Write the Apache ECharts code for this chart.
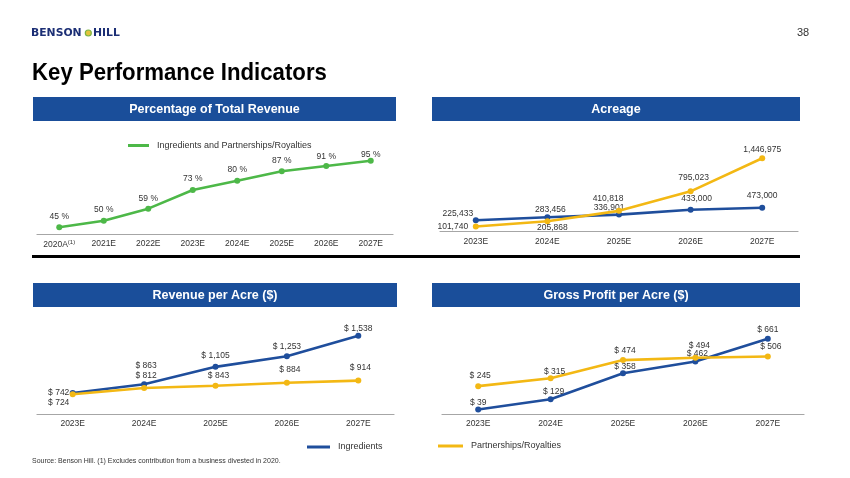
<!DOCTYPE html>
<html><head><meta charset="utf-8">
<script src="https://cdn.jsdelivr.net/npm/echarts@6/dist/echarts.min.js"></script>
<style>html,body{margin:0;padding:0;background:#fff}#c{width:850px;height:478px}</style>
</head><body><div id="c"></div>
<script>
// ---- data ----
const pctCategories = ['2020A(1)', '2021E', '2022E', '2023E', '2024E', '2025E', '2026E', '2027E'];
const pctValues = [45, 50, 59, 73, 80, 87, 91, 95];
const years = ['2023E', '2024E', '2025E', '2026E', '2027E'];
const acreageIngredients = [225433, 283456, 336901, 433000, 473000];
const acreagePartnerships = [101740, 205868, 410818, 795023, 1446975];
const revenueIngredients = [742, 863, 1105, 1253, 1538];
const revenuePartnerships = [724, 812, 843, 884, 914];
const gpIngredients = [39, 129, 358, 462, 661];
const gpPartnerships = [245, 315, 474, 494, 506];
const seriesNames = ['Ingredients', 'Partnerships/Royalties'];
const pctSeriesName = 'Ingredients and Partnerships/Royalties';

// ---- layout / styling ----
const BLUE = '#1F4E9C', YELLOW = '#F3B814', GREEN = '#4DB848', HEAD = '#1A4E9A';
const FONT = '"Liberation Sans", Arial, sans-serif';
const off = {
  pct: [[0,-11],[0,-11],[0,-10],[0,-11],[0,-11],[0,-11],[0,-9],[0,-6]],
  acI: [[-18,-7],[3,-8],[-10,-7],[6,-11],[0,-12]],
  acP: [[-23,0],[5,6],[-11,-12],[3,-14],[0,-9]],
  rvI: [[-14,0],[2,-19],[0,-11],[0,-10],[0,-7]],
  rvP: [[-14,8],[2,-12],[3,-10],[3,-13],[2,-13]],
  gpI: [[0,-7],[3,-8],[2,-7],[2,-8],[0,-9]],
  gpP: [[2,-10],[4,-7],[2,-9],[4,-12],[3,-10]]
};

const fmtPct = v => v + ' %';
const fmtNum = v => v.toLocaleString('en-US');
const fmtUsd = v => '$ ' + v.toLocaleString('en-US');

function mk(name, gi, values, color, fmt, offsets, z) {
  return {
    type: 'line', name: name, xAxisIndex: gi, yAxisIndex: gi, z: z,
    data: values.map((v, i) => ({ value: v, label: { offset: offsets[i] } })),
    symbol: 'circle', symbolSize: 6, showSymbol: true,
    lineStyle: { color: color, width: 2.6 },
    itemStyle: { color: color },
    emphasis: { disabled: true },
    label: { show: true, position: 'inside', formatter: p => fmt(p.value),
      fontSize: 8.5, color: '#333', fontFamily: FONT }
  };
}

const grids = [
  { left: 37, width: 356, top: 154, height: 80 },
  { left: 440, width: 358, top: 150.5, height: 81.2 },
  { left: 37, width: 357, top: 324, height: 90 },
  { left: 442, width: 362, top: 323, height: 91 }
].map(g => Object.assign({ outerBoundsMode: 'none', containLabel: false }, g));

const cats = [pctCategories, years, years, years];
const xAxis = cats.map((c, i) => ({
  type: 'category', gridIndex: i, data: c, boundaryGap: true,
  axisLine: { lineStyle: { color: '#A6A6A6', width: 1.2 } },
  axisTick: { show: false },
  axisLabel: { interval: 0, fontSize: 8.5, color: '#333', margin: 5, fontFamily: FONT,
    formatter: v => v.replace('(1)', '{sup|(1)}'),
    rich: { sup: { fontSize: 6, verticalAlign: 'top', color: '#333', padding: [0, 0, 6, 0] } } },
  splitLine: { show: false }
}));
const yRanges = [[40, 100], [0, 1600000], [450, 1700], [0, 800]];
const yAxis = yRanges.map((r, i) => ({ type: 'value', gridIndex: i, min: r[0], max: r[1], show: false }));

const series = [
  mk(pctSeriesName, 0, pctValues, GREEN, fmtPct, off.pct, 2),
  mk(seriesNames[0], 1, acreageIngredients, BLUE, fmtNum, off.acI, 2),
  mk(seriesNames[1], 1, acreagePartnerships, YELLOW, fmtNum, off.acP, 3),
  mk(seriesNames[0], 2, revenueIngredients, BLUE, fmtUsd, off.rvI, 2),
  mk(seriesNames[1], 2, revenuePartnerships, YELLOW, fmtUsd, off.rvP, 3),
  mk(seriesNames[0], 3, gpIngredients, BLUE, fmtUsd, off.gpI, 2),
  mk(seriesNames[1], 3, gpPartnerships, YELLOW, fmtUsd, off.gpP, 3)
];

const legendBase = { icon: 'rect', itemHeight: 3, selectedMode: false,
  textStyle: { fontSize: 9, color: '#333', fontFamily: FONT, padding: [0, 0, 0, 3] } };
const legend = [
  Object.assign({}, legendBase, { data: [pctSeriesName], left: 123, top: 136, itemWidth: 21 }),
  Object.assign({}, legendBase, { data: [seriesNames[0]], left: 302, top: 437.5, itemWidth: 23 }),
  Object.assign({}, legendBase, { data: [seriesNames[1]], left: 433, top: 436.5, itemWidth: 25 })
];

function header(x, y, w, h, txt) {
  return [
    { type: 'rect', shape: { x: x, y: y, width: w, height: h }, style: { fill: HEAD } },
    { type: 'text', x: x + w / 2, y: y + h / 2 + 0.5, style: { text: txt, fill: '#fff',
      font: 'bold 12.5px ' + FONT, textAlign: 'center', textVerticalAlign: 'middle' } }
  ];
}

const graphic = [].concat(
  [
    { type: 'text', x: 31, y: 33, style: { text: 'BENSON', fill: '#1C2F75', font: 'bold 10.8px "DejaVu Sans"', textVerticalAlign: 'middle' } },
    { type: 'circle', shape: { cx: 88.3, cy: 33, r: 3 }, style: { fill: '#E3C43C', stroke: '#7BB544', lineWidth: 1.2 } },
    { type: 'text', x: 93, y: 33, style: { text: 'HILL', fill: '#1C2F75', font: 'bold 10.8px "DejaVu Sans"', textVerticalAlign: 'middle' } },
    { type: 'text', x: 803, y: 33, style: { text: '38', fill: '#333', font: '11px ' + FONT, textAlign: 'center', textVerticalAlign: 'middle' } },
    { type: 'text', x: 32, y: 73, scaleX: 0.925, style: { text: 'Key Performance Indicators', fill: '#000', font: 'bold 24px ' + FONT, textVerticalAlign: 'middle' } },
    { type: 'rect', shape: { x: 32, y: 255, width: 768, height: 3 }, style: { fill: '#000' } },
    { type: 'text', x: 32, y: 461, style: { text: 'Source: Benson Hill. (1) Excludes contribution from a business divested in 2020.', fill: '#333', font: '7px ' + FONT, textVerticalAlign: 'middle' } }
  ],
  header(33, 97, 363, 24, 'Percentage of Total Revenue'),
  header(432, 97, 368, 24, 'Acreage'),
  header(33, 283, 364, 24, 'Revenue per Acre ($)'),
  header(432, 283, 368, 24, 'Gross Profit per Acre ($)')
);

const chart = echarts.init(document.getElementById('c'), null, { renderer: 'canvas' });
chart.setOption({
  animation: false,
  textStyle: { fontFamily: FONT },
  grid: grids, xAxis: xAxis, yAxis: yAxis, series: series, legend: legend, graphic: graphic
});
</script></body></html>
